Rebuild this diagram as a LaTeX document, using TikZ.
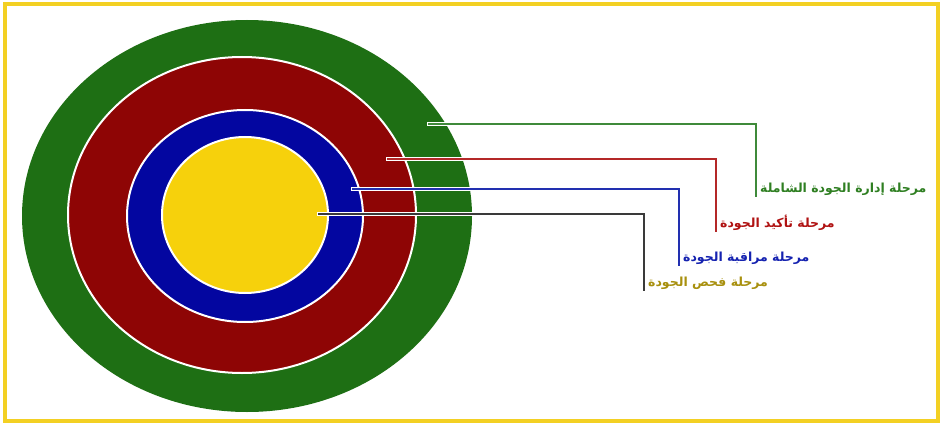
\documentclass[tikz,border=0pt]{standalone}
\usepackage{fontspec}
\usetikzlibrary{shapes.geometric}
\newfontfamily\arabicfont[Script=Arabic]{DejaVu Sans}
\TeXXeTstate=1
\definecolor{frameyellow}{HTML}{F3D023}
\definecolor{ringgreen}{HTML}{1E6F14}
\definecolor{ringred}{HTML}{8E0505}
\definecolor{ringblue}{HTML}{0306A0}
\definecolor{ringyellow}{HTML}{F6D10C}
\definecolor{txtgreen}{HTML}{2F7F22}
\definecolor{txtred}{HTML}{B01212}
\definecolor{txtblue}{HTML}{1522B0}
\definecolor{txtolive}{HTML}{A8900E}
\definecolor{leadgreen}{HTML}{3F8A3A}
\definecolor{leadred}{HTML}{B42828}
\definecolor{leadblue}{HTML}{2230B0}
\definecolor{leadgray}{HTML}{3A3A3A}
\begin{document}
\begin{tikzpicture}[x=1pt,y=-1pt,
  ring/.style={ellipse, inner sep=0pt, draw=white, line width=2pt},
  lead/.style={line width=2pt, line cap=rect,
    preaction={draw=white, line width=4.5pt, line cap=rect}},
  tag/.style={anchor=south west, inner sep=0pt, inner xsep=4pt,
    font=\arabicfont\bfseries\fontsize{12.5}{14}\selectfont}]
  \useasboundingbox (0,0) rectangle (942,425);
  \fill[white] (0,0) rectangle (942,425);
  \draw[frameyellow, line width=3.5pt] (5,4) rectangle (938,421);

  % concentric rings
  \node[ring, draw=none, fill=ringgreen, minimum width=450pt, minimum height=392pt] (rg) at (247,216) {};
  \node[ring, fill=ringred, minimum width=348pt, minimum height=316pt] (rr) at (242,215) {};
  \node[ring, fill=ringblue, minimum width=236pt, minimum height=212pt] (rb) at (245,216) {};
  \node[ring, fill=ringyellow, minimum width=166pt, minimum height=156pt] (ry) at (245,215) {};

  % start points of the leader lines
  \coordinate (sg) at (429,124);
  \coordinate (sr) at (388,159);
  \coordinate (sb) at (353,189);
  \coordinate (sy) at (319,214);

  % labels
  \node[tag, text=txtgreen] (lg) at (756,196) {\beginR مرحلة إدارة الجودة الشاملة\endR};
  \node[tag, text=txtred] (lr) at (716,231) {\beginR مرحلة تأكيد الجودة\endR};
  \node[tag, text=txtblue] (lb) at (679,265) {\beginR مرحلة مراقبة الجودة\endR};
  \node[tag, text=txtolive] (ly) at (644,290) {\beginR مرحلة فحص الجودة\endR};

  % leader lines
  \draw[lead, leadgreen] (sg) -| (lg.south west);
  \draw[lead, leadred] (sr) -| (lr.south west);
  \draw[lead, leadblue] (sb) -| (lb.south west);
  \draw[lead, leadgray] (sy) -| (ly.south west);
\end{tikzpicture}
\end{document}
